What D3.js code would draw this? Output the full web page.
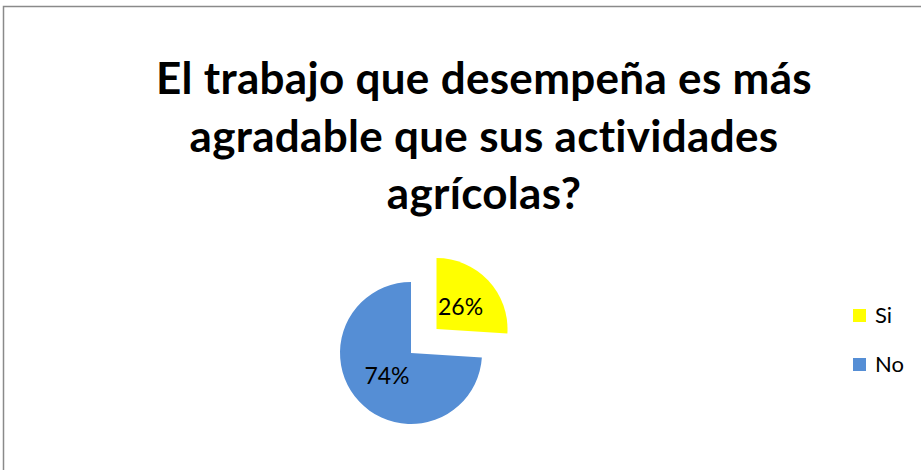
<!DOCTYPE html>
<html>
<head>
<meta charset="utf-8">
<script src="https://cdn.jsdelivr.net/npm/d3@7"></script>
<style>
  body { margin: 0; background: #fff; }
  svg { display: block; }
</style>
</head>
<body>
<div id="chart"></div>
<script>
// data
const categories = ["Si", "No"];
const values = [26, 74];
const titleLines = ["El trabajo que desempeña es más", "agradable que sus actividades", "agrícolas?"];

const colors = { "Si": "#FFFF00", "No": "#558ED5" };

const width = 921, height = 470;
const fontFamily = "Lato, Carlito, Calibri, sans-serif";

const svg = d3.select("#chart")
  .append("svg")
  .attr("width", width)
  .attr("height", height);

svg.append("rect")
  .attr("width", width)
  .attr("height", height)
  .attr("fill", "#fff");

// chart area border (runs off right and bottom)
svg.append("rect")
  .attr("x", 3.5)
  .attr("y", 6.5)
  .attr("width", width + 20)
  .attr("height", height + 20)
  .attr("fill", "none")
  .attr("stroke", "#8a8a8a")
  .attr("stroke-width", 1.5);

// title
svg.append("g")
  .selectAll("text")
  .data(titleLines)
  .enter().append("text")
  .attr("x", 484)
  .attr("y", (d, i) => 94 + i * 57.5)
  .attr("text-anchor", "middle")
  .style("font-family", fontFamily)
  .style("font-weight", "bold")
  .style("font-size", "44px")
  .style("letter-spacing", "0.3px")
  .attr("fill", "#000")
  .text(d => d);

// pie
const cx = 411, cy = 353, radius = 71, explode = 35;
const data = categories.map((c, i) => ({ label: c, value: values[i] }));

const pie = d3.pie().sort(null).value(d => d.value);
const arc = d3.arc().innerRadius(0).outerRadius(radius);

const pieG = svg.append("g").attr("transform", `translate(${cx},${cy})`);

const slices = pieG.selectAll(".slice")
  .data(pie(data))
  .enter().append("g")
  .attr("class", "slice")
  .attr("transform", d => {
    if (d.data.label !== "Si") return null;
    const a = (d.startAngle + d.endAngle) / 2;
    return `translate(${Math.sin(a) * explode},${-Math.cos(a) * explode})`;
  });

slices.append("path")
  .attr("d", arc)
  .attr("fill", d => colors[d.data.label]);

slices.append("text")
  .attr("transform", d => {
    const a = (d.startAngle + d.endAngle) / 2;
    const r = 33;
    return `translate(${Math.sin(a) * r},${-Math.cos(a) * r})`;
  })
  .attr("text-anchor", "middle")
  .attr("dy", "0.36em")
  .style("font-family", fontFamily)
  .style("font-size", "23px")
  .attr("fill", "#000")
  .text(d => Math.round(d.value) + "%");

// legend
const legend = svg.selectAll(".legend")
  .data(categories)
  .enter().append("g")
  .attr("class", "legend")
  .attr("transform", (d, i) => `translate(853, ${309 + i * 49})`);

legend.append("rect")
  .attr("width", 13)
  .attr("height", 13)
  .attr("fill", d => colors[d]);

legend.append("text")
  .attr("x", 22)
  .attr("y", 14)
  .style("font-family", fontFamily)
  .style("font-size", "22px")
  .attr("fill", "#000")
  .text(d => d);
</script>
</body>
</html>
